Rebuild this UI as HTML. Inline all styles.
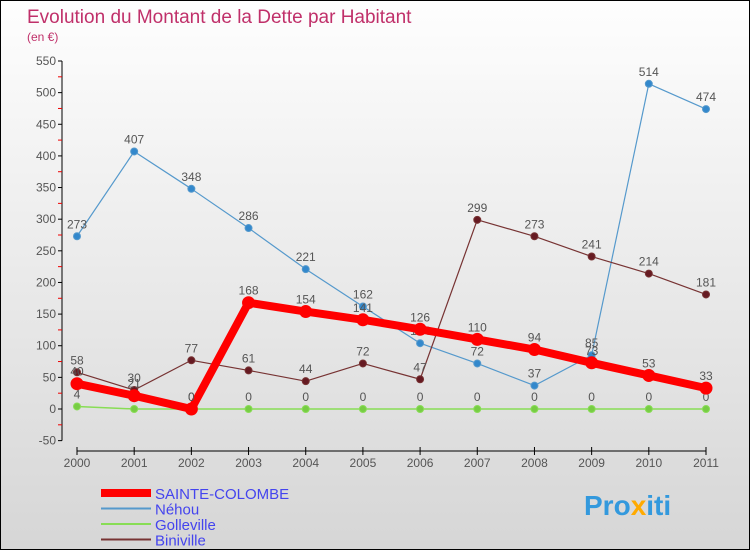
<!DOCTYPE html>
<html><head><meta charset="utf-8"><style>
body{margin:0}
#c{width:750px;height:550px;position:relative;overflow:hidden;box-sizing:border-box;border:1px solid #000;background:linear-gradient(#fefefe,#d6d6d6);font-family:"Liberation Sans",sans-serif}
</style></head><body>
<div id="c">
<svg id="s" width="750" height="550" style="position:absolute;left:0;top:0">
<text x="26" y="22" font-size="19" fill="#c0306a">Evolution du Montant de la Dette par Habitant</text>
<text x="26" y="40" font-size="12" fill="#c0306a">(en €)</text>
</svg>
</div>
<script>
const years=[2000,2001,2002,2003,2004,2005,2006,2007,2008,2009,2010,2011];
const sainte=[40,21,0,168,154,141,126,110,94,73,53,33];
const nehou=[273,407,348,286,221,162,104,72,37,85,514,474];
const golle=[4,0,0,0,0,0,0,0,0,0,0,0];
const bini=[58,30,77,61,44,72,47,299,273,241,214,181];
const yTicks=[-50,0,50,100,150,200,250,300,350,400,450,500,550];
const seriesNames=["SAINTE-COLOMBE","Néhou","Golleville","Biniville"];
const svg=document.getElementById('s');const NS="http://www.w3.org/2000/svg";
function X(i){return 76+i*(705-76)/(years.length-1);}
function Y(v){return 408-v*(348/550);}
function el(t,a,p){const e=document.createElementNS(NS,t);for(const k in a)e.setAttribute(k,a[k]);(p||svg).appendChild(e);return e;}
let ax=el('line',{x1:61,y1:Y(550),x2:61,y2:Y(-50),stroke:'#000'});

yTicks.forEach((v,i)=>{el('line',{x1:57,x2:61,y1:Y(v),y2:Y(v),stroke:'#000'});
 if(i<yTicks.length-1)el('line',{x1:57,x2:61,y1:Y(v+25),y2:Y(v+25),stroke:'#e00'});
 const t=el('text',{x:55,y:Y(v)+4,'font-size':12,fill:'#555','text-anchor':'end'});t.textContent=v;
 });
let xa=el('line',{x1:76,x2:705,y1:450,y2:450,stroke:'#000'});

years.forEach((y,i)=>{el('line',{x1:X(i),x2:X(i),y1:446,y2:454,stroke:'#000'});
 const t=el('text',{x:X(i),y:466,'font-size':12,fill:'#555','text-anchor':'middle'});t.textContent=y;
 });
function series(d,color,w,r,name,fill){
 const g=el('g',{});
 el('polyline',{points:d.map((v,i)=>X(i)+','+Y(v)).join(' '),fill:'none',stroke:color,'stroke-width':w,'stroke-linejoin':'round'},g);
 d.forEach((v,i)=>{const c=el('circle',{cx:X(i),cy:Y(v),r:r,fill:fill,stroke:color},g);
  
  const t=el('text',{x:X(i),y:Y(v)-8,'font-size':12,fill:'#555','text-anchor':'middle'},g);t.textContent=v;
  });
}
series(golle,'#88dd55',1.5,3.5,'golleville','#77cc44');
series(nehou,'#5599cc',1.2,3.5,'nehou','#3388cc');
series(bini,'#773333',1.2,3.5,'biniville','#661a22');
series(sainte,'#ff0000',8,6,'sainte-colombe','#ff0000');
const lc=['#ff0000','#5599cc','#88dd55','#773333'],lw=[8,2,2,2];
seriesNames.forEach((n,i)=>{const y=492+i*15.5;
 const g=el('g',{});
 el('line',{x1:100,x2:150,y1:y,y2:y,stroke:lc[i],'stroke-width':lw[i]},g);
 const t=el('text',{x:154,y:y+6,'font-size':15,fill:'#4444ee'},g);t.textContent=n;});
const p=el('text',{x:583,y:514,'font-size':28,'font-weight':'bold',fill:'#3399dd'});
p.innerHTML='Pro<tspan fill="#ffaa00">x</tspan>iti';

</script>
</body></html>
